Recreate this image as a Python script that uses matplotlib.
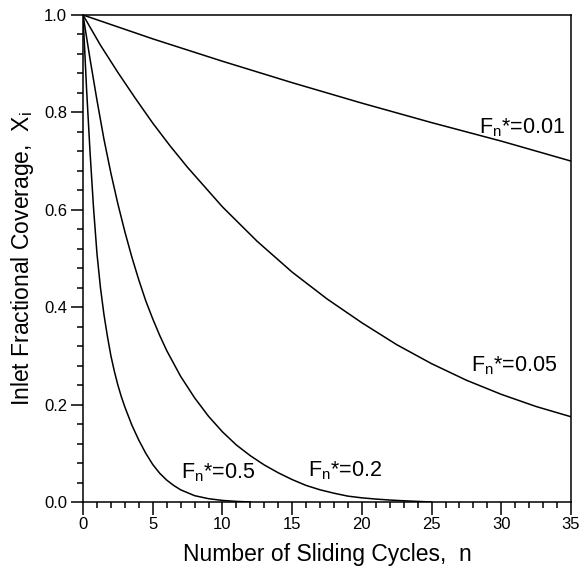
import matplotlib
matplotlib.use("Agg")
import matplotlib.pyplot as plt
from matplotlib.ticker import MultipleLocator, FormatStrFormatter
from matplotlib.transforms import ScaledTranslation

plt.rcParams['font.family'] = ['Liberation Sans', 'DejaVu Sans']
plt.rcParams['mathtext.fontset'] = 'custom'
plt.rcParams['mathtext.rm'] = 'Liberation Sans'
plt.rcParams['mathtext.it'] = 'Liberation Sans'

# ---- data ----
n_001 = [0, 5, 10, 15, 20, 25, 30, 35]
x_001 = [1.0, 0.951, 0.905, 0.861, 0.819, 0.779, 0.741, 0.700]

n_005 = [0, 1.25, 2.5, 3.75, 5, 6.25, 7.5, 10, 12.5, 15, 17.5, 20, 22.5, 25,
         27.5, 30, 32.5, 35]
x_005 = [1.0, 0.938, 0.882, 0.829, 0.778, 0.731, 0.687, 0.606, 0.535, 0.472,
         0.417, 0.368, 0.323, 0.284, 0.250, 0.221, 0.196, 0.175]

n_02 = [0, 0.5, 1, 1.5, 2, 2.5, 3, 3.5, 4, 4.5, 5, 5.5, 6, 7, 8, 9, 10, 11,
        12, 13, 14, 15, 16, 17, 18, 19, 20, 21, 22, 23, 24, 25]
x_02 = [1.0, 0.91, 0.825, 0.745, 0.675, 0.612, 0.555, 0.503, 0.456, 0.413,
        0.376, 0.342, 0.311, 0.258, 0.214, 0.176, 0.144, 0.117, 0.095, 0.076,
        0.060, 0.046, 0.034, 0.025, 0.018, 0.012, 0.0085, 0.006, 0.004,
        0.0025, 0.0012, 0.0]

n_05 = [0, 0.25, 0.5, 0.75, 1, 1.25, 1.5, 1.75, 2, 2.25, 2.5, 2.75, 3, 3.5,
        4, 4.5, 5, 5.5, 6, 6.5, 7, 8, 9, 10, 11, 12]
x_05 = [1.0, 0.85, 0.72, 0.605, 0.51, 0.44, 0.385, 0.34, 0.30, 0.268, 0.24,
        0.216, 0.195, 0.158, 0.127, 0.10, 0.077, 0.059, 0.045, 0.034, 0.025,
        0.013, 0.0068, 0.0032, 0.0012, 0.0]

labels = [r'F$_\mathrm{n}$*=0.01', r'F$_\mathrm{n}$*=0.05',
          r'F$_\mathrm{n}$*=0.2', r'F$_\mathrm{n}$*=0.5']
label_pos = [(28.4, 0.757), (27.8, 0.268), (16.15, 0.053), (7.05, 0.049)]

fig = plt.figure(figsize=(5.79, 5.72), dpi=100)
ax = fig.add_axes([0.1434, 0.1224, 0.8428, 0.8514])

for nn, xx in [(n_001, x_001), (n_005, x_005), (n_02, x_02), (n_05, x_05)]:
    ax.plot(nn, xx, color='black', lw=1.1)

for lab, (px, py) in zip(labels, label_pos):
    ax.text(px, py, lab, fontsize=15.5, ha='left', va='baseline')

ax.set_xlim(0, 35)
ax.set_ylim(0, 1.0)
ax.xaxis.set_major_locator(MultipleLocator(5))
ax.xaxis.set_minor_locator(MultipleLocator(1))
ax.yaxis.set_major_locator(MultipleLocator(0.2))
ax.yaxis.set_minor_locator(MultipleLocator(0.04))
ax.yaxis.set_major_formatter(FormatStrFormatter('%.1f'))

ax.tick_params(which='major', direction='out', length=9, width=1.1,
               labelsize=12, top=False, right=False)
ax.tick_params(which='minor', direction='out', length=4.5, width=1.1,
               top=False, right=False)
ax.tick_params(axis='x', which='major', pad=1.5)
ax.tick_params(axis='y', which='major', pad=2.5)
for s in ax.spines.values():
    s.set_linewidth(1.1)

ax.set_xlabel('Number of Sliding Cycles,  n', fontsize=16.5, labelpad=8)
ax.set_ylabel(r'Inlet Fractional Coverage,  X$_\mathrm{i}$', fontsize=16.5, labelpad=6)

# keep the last x tick label ("35") inside the figure edge
fig.canvas.draw()
last = ax.xaxis.get_major_ticks()[-1].label1
last.set_transform(last.get_transform() +
                   ScaledTranslation(-3 / 100, 0, fig.dpi_scale_trans))

fig.savefig('out.png', dpi=100)
